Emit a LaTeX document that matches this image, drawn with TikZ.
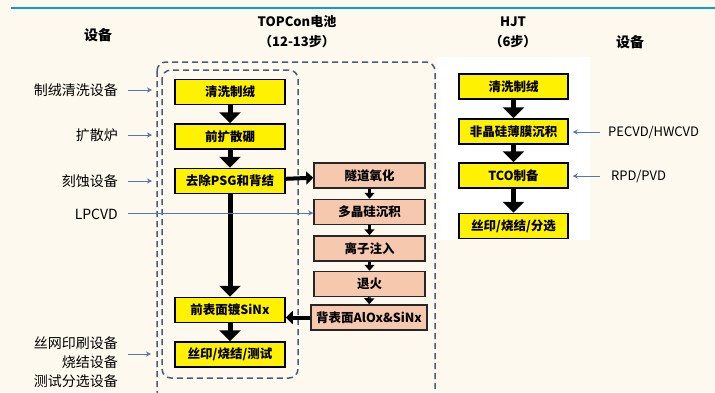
\documentclass[tikz,border=0pt]{standalone}
\usepackage{fontspec}
\setmainfont{Noto Sans CJK SC}
\usetikzlibrary{arrows.meta}
\definecolor{bgc}{HTML}{FDF9EF}
\definecolor{topline}{HTML}{0A9BE0}
\definecolor{dashc}{HTML}{4A5D78}
\definecolor{arrc}{HTML}{5577AA}
\definecolor{orangef}{HTML}{F6C9AE}
\tikzset{
  ybox/.style={draw=black, line width=1.5pt, fill=yellow, minimum width=110pt, minimum height=25pt, inner sep=0pt, font=\fontsize{12.5}{14}\selectfont\bfseries},
  obox/.style={draw=black!85, line width=1.5pt, fill=orangef, minimum width=111pt, minimum height=25pt, inner sep=0pt, font=\fontsize{12.5}{14}\selectfont\bfseries},
  bigarrow/.style={line width=5pt, -{Triangle[width=21pt,length=11pt]}},
  medarrow/.style={line width=4pt, -{Triangle[width=13pt,length=7pt]}},
  smallarrow/.style={line width=3pt, -{Triangle[width=10pt,length=6pt]}},
  thinarrow/.style={draw=arrc, line width=0.8pt, -{Stealth[width=5pt,length=5pt]}},
  dashbox/.style={draw=dashc, line width=1.5pt, dash pattern=on 6pt off 4pt, rounded corners=9pt},
  lab/.style={font=\fontsize{14}{17}\selectfont, inner sep=0pt},
  hdr/.style={font=\fontsize{13}{16}\selectfont\bfseries, inner sep=0pt, align=center},
}
\begin{document}
\begin{tikzpicture}[x=1pt,y=-1pt]
\useasboundingbox (0,0) rectangle (715,392);
\fill[bgc] (0,0) rectangle (715,392);
\draw[topline, line width=2pt] (11,8) -- (715,8);
\fill[white] (437,57) rectangle (590,240);
\begin{scope}
\clip (0,0) rectangle (715,392);
\draw[dashbox] (157,62) rectangle (435,400);
\end{scope}
\draw[dashbox] (162,70) rectangle (298,378);

% headers
\node[hdr, font=\fontsize{14}{17}\selectfont\bfseries] (h1) at (98,35) {设备};
\node[hdr] (h2) at (297,22) {TOPCon电池};
\node[hdr] (h3) at (297,42) {（12-13步）};
\node[hdr] (h4) at (513,22) {HJT};
\node[hdr] (h5) at (513,42) {（6步）};
\node[hdr, font=\fontsize{14}{17}\selectfont\bfseries] (h6) at (630,42) {设备};

% TOPCon main column
\node[ybox] (a1) at (230,92) {清洗制绒};
\node[ybox] (a2) at (230,136.5) {前扩散硼};
\node[ybox] (a3) at (230,181) {去除PSG和背结};
\node[ybox] (a4) at (230,310) {前表面镀SiNx};
\node[ybox] (a5) at (230,354.5) {丝印/烧结/测试};

% TOPCon side column
\node[obox] (b1) at (369.5,175.5) {隧道氧化};
\node[obox] (b2) at (369.5,212) {多晶硅沉积};
\node[obox] (b3) at (369.5,248.5) {离子注入};
\node[obox] (b4) at (369.5,284) {退火};
\node[obox, minimum width=116pt] (b5) at (369,317.5) {背表面AlOx\&SiNx};

% HJT column
\node[ybox, minimum width=109pt] (c1) at (513.5,86.5) {清洗制绒};
\node[ybox, minimum width=109pt] (c2) at (513.5,131.5) {非晶硅薄膜沉积};
\node[ybox, minimum width=109pt] (c3) at (513.5,175.5) {TCO制备};
\node[ybox, minimum width=109pt] (c4) at (513.5,226) {丝印/烧结/分选};

% thick arrows
\draw[bigarrow] (a1) -- (a2);
\draw[bigarrow] (a2) -- (a3);
\draw[bigarrow] (a3) -- (a4);
\draw[bigarrow] (a4) -- (a5);
\draw[bigarrow] (c1) -- (c2);
\draw[bigarrow] (c2) -- (c3);
\draw[bigarrow] (c3) -- (c4);
\draw[medarrow] (a3) -- (b1);
\draw[medarrow] (b5.west) -- (b5.west -| a4.east);
\draw[smallarrow] (b1) -- (b2);
\draw[smallarrow] (b2) -- (b3);
\draw[smallarrow] (b3) -- (b4);
\draw[smallarrow] (b4) -- (b5);

% left equipment labels
\node[lab, anchor=east] (l1) at (118,90) {制绒清洗设备};
\node[lab, anchor=east] (l2) at (118,135) {扩散炉};
\node[lab, anchor=east] (l3) at (118,181) {刻蚀设备};
\node[lab, anchor=east] (l4) at (118,214) {LPCVD};
\node[lab, anchor=east, align=right, font=\fontsize{14}{19}\selectfont] (l5) at (118,362) {丝网印刷设备\\烧结设备\\测试分选设备};

\coordinate (e1s) at (128,90);  \coordinate (e1e) at (152,90);
\coordinate (e2s) at (128,135); \coordinate (e2e) at (152,135);
\coordinate (e3s) at (128,181); \coordinate (e3e) at (152,181);
\coordinate (e4s) at (128,213);
\coordinate (e5s) at (128,354); \coordinate (e5e) at (151,354);
\draw[thinarrow] (e1s) -- (e1e);
\draw[thinarrow] (e2s) -- (e2e);
\draw[thinarrow] (e3s) -- (e3e);
\draw[thinarrow] (e4s) -- (e4s -| b2.west);
\draw[thinarrow] (e5s) -- (e5e);

% right equipment labels
\node[lab, anchor=west, font=\fontsize{13}{16}\selectfont] (r1) at (608,132) {PECVD/HWCVD};
\node[lab, anchor=west, font=\fontsize{13}{16}\selectfont] (r2) at (611,176) {RPD/PVD};
\coordinate (f1s) at (600,132); \coordinate (f2s) at (600,176);
\draw[thinarrow] (f1s) -- ([xshift=4pt]f1s -| c2.east);
\draw[thinarrow] (f2s) -- ([xshift=4pt]f2s -| c3.east);
\end{tikzpicture}
\end{document}
